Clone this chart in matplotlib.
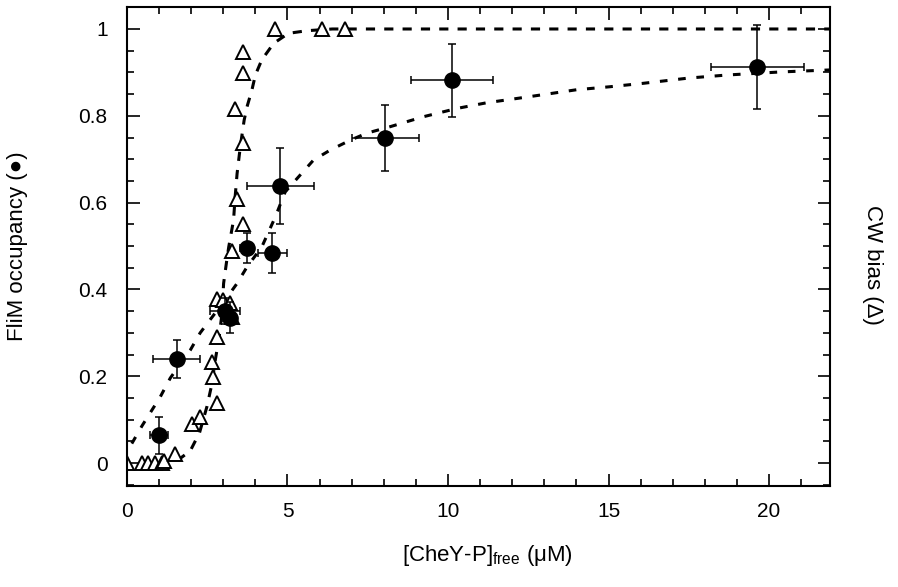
import numpy as np
import matplotlib
matplotlib.use('Agg')
import matplotlib.pyplot as plt
from matplotlib.ticker import MultipleLocator, FixedLocator

plt.rcParams['font.family'] = ['Liberation Sans', 'DejaVu Sans']

# FliM occupancy (filled circles) with x/y error bars
occ_x = [1.0, 1.55, 3.05, 3.2, 3.73, 4.52, 4.78, 8.05, 10.12, 19.64]
occ_y = [0.064, 0.239, 0.35, 0.335, 0.495, 0.484, 0.638, 0.749, 0.882, 0.913]
occ_xerr = [0.28, 0.73, 0.47, 0.2, 0.2, 0.45, 1.05, 1.05, 1.28, 1.46]
occ_yerr = [0.043, 0.044, 0.03, 0.035, 0.035, 0.045, 0.087, 0.076, 0.084, 0.097]

# CW bias (open triangles)
cw_x = [0.0, 0.47, 0.67, 0.88, 1.09, 1.14, 1.5, 2.03, 2.26, 2.79, 2.69, 2.65,
        2.8, 2.8, 3.0, 3.22, 3.27, 3.27, 3.61, 3.43, 3.61, 3.35, 3.61, 3.61,
        4.62, 6.07, 6.8]
cw_y = [0.0, 0.0, 0.0, 0.0, 0.0, 0.005, 0.022, 0.091, 0.107, 0.138, 0.199, 0.233,
        0.291, 0.379, 0.375, 0.368, 0.337, 0.488, 0.551, 0.608, 0.738, 0.815,
        0.898, 0.948, 1.0, 1.0, 1.0]

# fitted curves
fit_occ_x = [0.15, 0.47, 1.04, 1.35, 1.97, 2.28, 2.69, 3.05, 3.43, 3.74, 4.2,
             4.62, 4.93, 5.4, 5.81, 6.33, 6.96, 7.47, 8.2, 9.24, 10.28, 11.2,
             12.15, 13.08, 14.0, 15.05, 16.1, 17.5, 18.7, 20.35, 22.0]
fit_occ_y = [0.045, 0.086, 0.153, 0.196, 0.26, 0.3, 0.34, 0.375, 0.414, 0.452,
             0.498, 0.567, 0.625, 0.664, 0.698, 0.721, 0.744, 0.76, 0.775,
             0.798, 0.817, 0.83, 0.84, 0.85, 0.86, 0.867, 0.875, 0.887, 0.894,
             0.901, 0.906]

fit_cw_x = [1.0, 1.4, 1.66, 1.97, 2.26, 2.49, 2.65, 2.75, 2.87, 2.96, 3.01,
            3.11, 3.17, 3.32, 3.37, 3.43, 3.53, 3.65, 3.74, 3.89, 4.0, 4.2,
            4.57, 5.03, 5.6, 6.4, 8.0, 22.0]
fit_cw_y = [0.0, 0.003, 0.011, 0.028, 0.07, 0.13, 0.184, 0.237, 0.29, 0.345,
            0.414, 0.468, 0.498, 0.56, 0.614, 0.667, 0.729, 0.79, 0.821, 0.859,
            0.894, 0.929, 0.967, 0.99, 0.996, 1.0, 1.0, 1.0]

fig = plt.figure(figsize=(8.98, 5.87), dpi=100)
ax = fig.add_axes([0.1414, 0.1726, 0.7829, 0.815])

ax.plot(fit_cw_x, fit_cw_y, color='black', lw=2.2, dashes=(3, 3))
ax.plot(fit_occ_x, fit_occ_y, color='black', lw=2.2, dashes=(2.5, 3.5))

ax.plot(cw_x, cw_y, linestyle='none', marker='^', markersize=9.5,
        markerfacecolor='white', markeredgecolor='black', markeredgewidth=1.4)

ax.errorbar(occ_x, occ_y, xerr=occ_xerr, yerr=occ_yerr, fmt='o', color='black',
            markersize=11, elinewidth=1.1, capsize=3, capthick=1.1)

ax.set_xlim(0, 21.9)
ax.set_ylim(-0.052, 1.05)
ax.xaxis.set_major_locator(MultipleLocator(5))
ax.xaxis.set_minor_locator(MultipleLocator(1))
ax.yaxis.set_major_locator(FixedLocator([0, 0.2, 0.4, 0.6, 0.8, 1.0]))
ax.yaxis.set_minor_locator(MultipleLocator(0.05))
ax.set_yticklabels(['0', '0.2', '0.4', '0.6', '0.8', '1'])

ax.tick_params(which='both', direction='in', top=True, right=True,
               labelsize=15, width=1.2)
ax.tick_params(which='major', length=9)
ax.tick_params(which='minor', length=5)
ax.tick_params(axis='x', which='major', pad=12)
ax.tick_params(axis='y', which='major', pad=14)
for s in ax.spines.values():
    s.set_linewidth(1.5)

ax.set_xlabel('[CheY-P]$_{\\mathregular{free}}$ (\u03bcM)', fontsize=16)
ax.xaxis.set_label_coords(0.513, -0.12)
ax.set_ylabel('FliM occupancy (\u25cf)', fontsize=16)
ax.yaxis.set_label_coords(-0.141, 0.5)
fig.text(0.972, 0.549, 'CW bias (\u0394)', rotation=270, fontsize=16,
         ha='center', va='center')

fig.savefig('out.png', dpi=100)
